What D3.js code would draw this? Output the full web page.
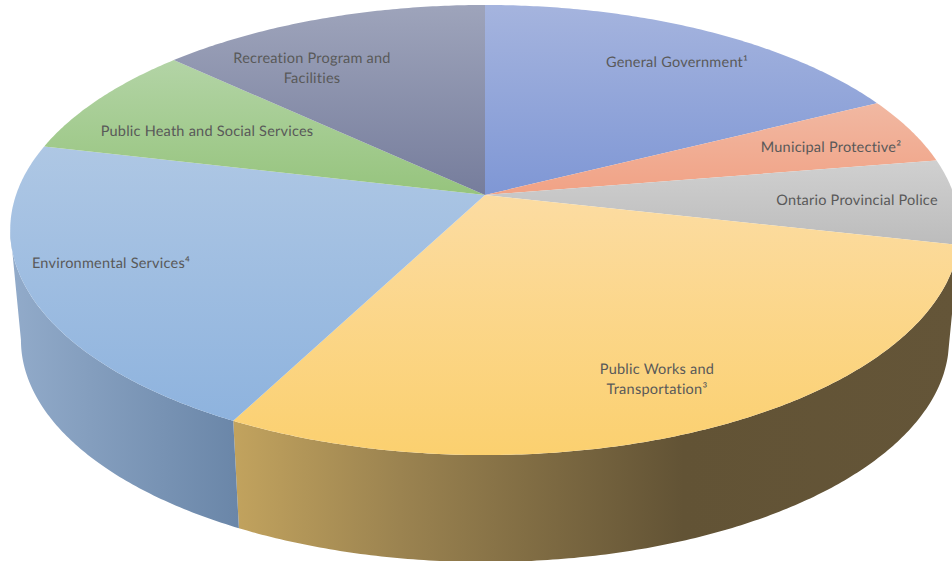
<!DOCTYPE html>
<html lang="en">
<head>
<meta charset="utf-8">
<title>Expenditure by service area</title>
<script src="https://cdn.jsdelivr.net/npm/d3@7/dist/d3.min.js"></script>
<style>
  html, body { margin: 0; padding: 0; background: #fff; overflow: hidden; }
  svg { display: block; }
  text { font-family: Lato, "Open Sans", sans-serif; font-size: 14.5px; letter-spacing: 0.23px; fill: #595959; text-anchor: middle; text-rendering: geometricPrecision; }
</style>
</head>
<body>
<svg id="chart" width="952" height="561"></svg>
<script>
// Share of spending per service area, clockwise from twelve o'clock
const categories = [
  "General Government¹",
  "Municipal Protective²",
  "Ontario Provincial Police",
  "Public Works and Transportation³",
  "Environmental Services⁴",
  "Public Heath and Social Services",
  "Recreation Program and Facilities"
];
const shares = [17.6, 4.8, 6.1, 29.1, 21.0, 8.2, 13.1];

// Top-face gradient per slice: [upper colour, lower colour]
const faceColours = [
  ["#a5b4de", "#7f97d5"],
  ["#f1b8a2", "#f1a285"],
  ["#d0d0d0", "#bcbcbc"],
  ["#fcdca2", "#fbd06f"],
  ["#aec7e4", "#8eb3de"],
  ["#b3d4a6", "#96c47d"],
  ["#9ea4bb", "#767d9c"]
];

// Rim shading, left to right, only for slices that face the viewer
const wallShades = {
  3: [[0, "#c2a35e"], [0.23, "#9b8350"], [0.62, "#625335"], [1, "#645538"]],
  4: [[0, "#92abca"], [1, "#6a86a8"]]
};

// Label text lines and their anchor points
const labelLines = [
  ["General Government¹"],
  ["Municipal Protective²"],
  ["Ontario Provincial Police"],
  ["Public Works and", "Transportation³"],
  ["Environmental Services⁴"],
  ["Public Heath and Social Services"],
  ["Recreation Program and", "Facilities"]
];
const labelAnchors = [[677, 67], [831, 152], [857, 205], [657, 374], [111, 268], [207, 136], [312, 63]];
const labelLineHeight = 20;

// Tilted-disc projection: a unit circle seen in perspective
const tilt = 0.1556;
const topPlane = { cx: 485, cy: 195, sx: 469, sy: 219.6 };
const basePlane = { cx: 485, cy: 305.5, sx: 458.4, sy: 216.6 };
const project = (plane, angle) => {
  const u = Math.sin(angle), v = Math.cos(angle), w = 1 + tilt * v;
  return [plane.cx + plane.sx * u / w, plane.cy - plane.sy * v / w];
};

const arcPoints = (plane, a0, a1) => {
  const steps = Math.max(2, Math.ceil(Math.abs(a1 - a0) / 0.01));
  return d3.range(steps + 1).map(i => project(plane, a0 + (a1 - a0) * i / steps));
};

const line = d3.line();
const svg = d3.select("#chart");
const defs = svg.append("defs");

const slices = d3.pie().sort(null)(shares);

// Gradients
faceColours.forEach((c, i) => {
  const g = defs.append("linearGradient").attr("id", "face" + i)
    .attr("x1", 0).attr("y1", 0).attr("x2", 0).attr("y2", 1);
  g.append("stop").attr("offset", 0).attr("stop-color", c[0]);
  g.append("stop").attr("offset", 1).attr("stop-color", c[1]);
});
Object.entries(wallShades).forEach(([i, stops]) => {
  const g = defs.append("linearGradient").attr("id", "wall" + i)
    .attr("x1", 0).attr("y1", 0).attr("x2", 1).attr("y2", 0);
  stops.forEach(s => g.append("stop").attr("offset", s[0]).attr("stop-color", s[1]));
});

// The rim is only seen between the two silhouette tangents
const rimStart = Math.PI - Math.acos(tilt);
const rimEnd = Math.PI + Math.acos(tilt);

svg.append("g").attr("class", "walls")
  .selectAll("path")
  .data(slices.map((s, i) => ({ s, i })).filter(d => wallShades[d.i]))
  .join("path")
  .attr("fill", d => `url(#wall${d.i})`)
  .attr("d", d => {
    const a0 = Math.max(d.s.startAngle, rimStart);
    const a1 = Math.min(d.s.endAngle, rimEnd);
    return line(arcPoints(topPlane, a0, a1).concat(arcPoints(basePlane, a1, a0))) + "Z";
  });

svg.append("g").attr("class", "faces")
  .selectAll("path")
  .data(slices)
  .join("path")
  .attr("fill", (d, i) => `url(#face${i})`)
  .attr("d", d => {
    const centre = [topPlane.cx, topPlane.cy];
    return line([centre].concat(arcPoints(topPlane, d.startAngle, d.endAngle))) + "Z";
  });

const labels = svg.append("g").attr("class", "labels")
  .selectAll("text")
  .data(categories)
  .join("text")
  .attr("transform", (d, i) => `translate(${labelAnchors[i]})`);
labels.selectAll("tspan")
  .data((d, i) => labelLines[i])
  .join("tspan")
  .attr("x", 0)
  .attr("y", (d, i) => i * labelLineHeight)
  .text(d => d);
</script>
</body>
</html>
